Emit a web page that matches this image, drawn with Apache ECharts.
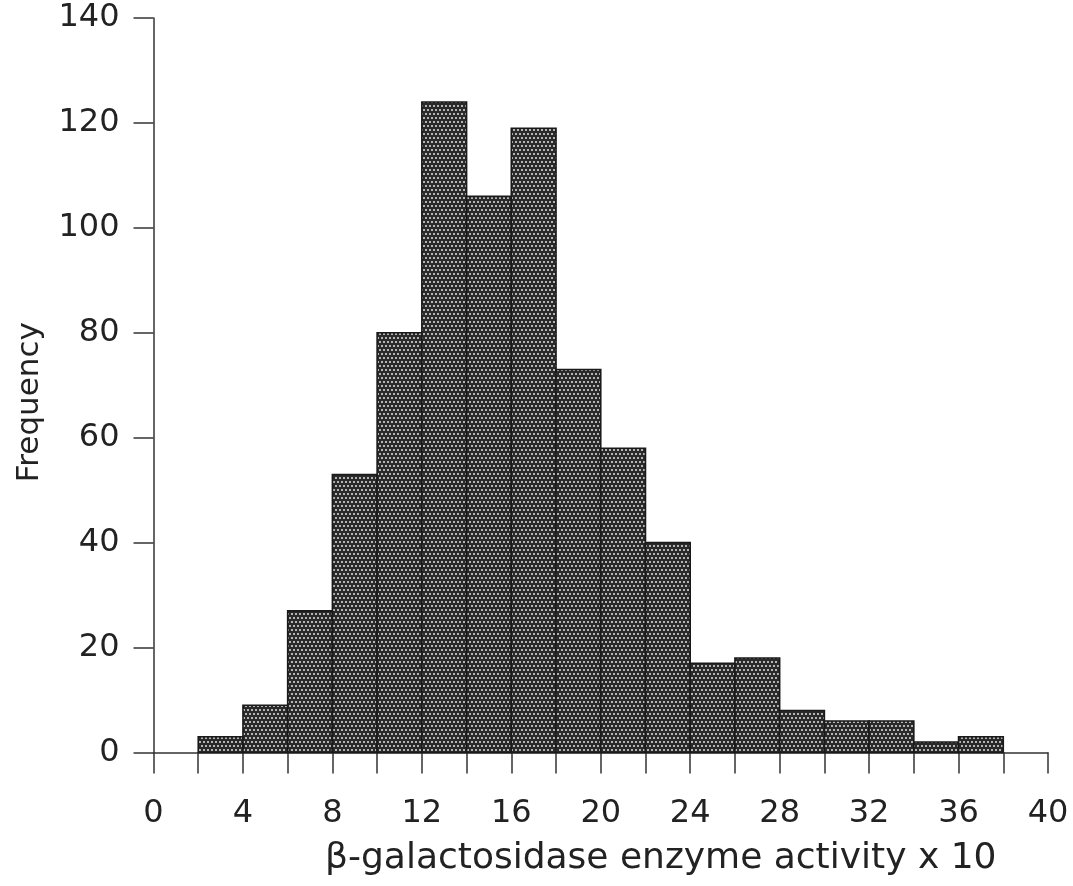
<!DOCTYPE html>
<html>
<head>
<meta charset="utf-8">
<script src="https://cdn.jsdelivr.net/npm/echarts@6/dist/echarts.min.js"></script>
<style>
html,body{margin:0;padding:0;background:#fff;}
#chart{width:1073px;height:886px;}
</style>
</head>
<body>
<div id="chart"></div>
<script>
// Histogram data: lower bin edges, bin width, frequencies
const binLow = [2, 4, 6, 8, 10, 12, 14, 16, 18, 20, 22, 24, 26, 28, 30, 32, 34, 36];
const binWidth = 2;
const frequency = [3, 9, 27, 53, 80, 124, 106, 119, 73, 58, 40, 17, 18, 8, 6, 6, 2, 3];
const xTickLabels = [0, 4, 8, 12, 16, 20, 24, 28, 32, 36, 40];
const yTickLabels = [0, 20, 40, 60, 80, 100, 120, 140];

// halftone-like pattern (quincunx of light dots on dark ground)
const pc = document.createElement('canvas');
pc.width = 8; pc.height = 8;
const g = pc.getContext('2d');
g.fillStyle = '#2a2a2a';
g.fillRect(0, 0, 8, 8);
g.fillStyle = '#b4b4b4';
g.fillRect(1, 1, 2, 2);
g.fillRect(5, 1, 2, 2);
g.fillRect(3, 5, 2, 2);
g.fillRect(7, 5, 1, 2);
g.fillRect(0, 5, 1, 2);
const pattern = { image: pc, repeat: 'repeat' };

const data = binLow.map((b, i) => [b, b + binWidth, frequency[i]]);

const chart = echarts.init(document.getElementById('chart'), null, { renderer: 'canvas' });
const font = 'DejaVu Sans';
chart.setOption({
  animation: false,
  backgroundColor: '#ffffff',
  grid: { left: 153.5, right: 25, top: 18, bottom: 133.5, containLabel: false, outerBoundsMode: 'none' },
  xAxis: {
    type: 'value',
    min: 0, max: 40, interval: 2,
    name: 'β-galactosidase enzyme activity x 10',
    nameLocation: 'middle',
    nameGap: 88,
    nameTextStyle: { fontFamily: font, fontSize: 36, color: '#222', padding: [0, 0, 0, 120] },
    axisLine: { show: true, onZero: false, lineStyle: { color: '#333', width: 1.5 } },
    axisTick: { show: true, inside: false, length: 21, lineStyle: { color: '#333', width: 1.5 } },
    axisLabel: {
      margin: 45, fontFamily: font, fontSize: 32, color: '#222',
      showMinLabel: true, showMaxLabel: true,
      formatter: v => xTickLabels.indexOf(v) >= 0 ? String(v) : ''
    },
    splitLine: { show: false }
  },
  yAxis: {
    type: 'value',
    min: 0, max: 140, interval: 20,
    name: 'Frequency',
    nameLocation: 'middle',
    nameRotate: 90,
    nameGap: 108,
    nameTextStyle: { fontFamily: font, fontSize: 31, color: '#222', padding: [0, 34, 0, 0] },
    axisLine: { show: true, lineStyle: { color: '#333', width: 1.5 } },
    axisTick: { show: true, inside: false, length: 20, lineStyle: { color: '#333', width: 1.5 } },
    axisLabel: {
      margin: 34, fontFamily: font, fontSize: 32, color: '#222',
      showMinLabel: true, showMaxLabel: true,
      formatter: v => yTickLabels.indexOf(v) >= 0 ? String(v) : ''
    },
    splitLine: { show: false }
  },
  series: [{
    type: 'custom',
    data: data,
    encode: { x: [0, 1], y: 2 },
    renderItem: function (params, api) {
      const p0 = api.coord([api.value(0), api.value(2)]);
      const p1 = api.coord([api.value(1), 0]);
      return {
        type: 'rect',
        shape: { x: p0[0], y: p0[1], width: p1[0] - p0[0], height: p1[1] - p0[1] },
        style: { fill: pattern, stroke: '#1a1a1a', lineWidth: 1.6 }
      };
    }
  }]
});
</script>
</body>
</html>
